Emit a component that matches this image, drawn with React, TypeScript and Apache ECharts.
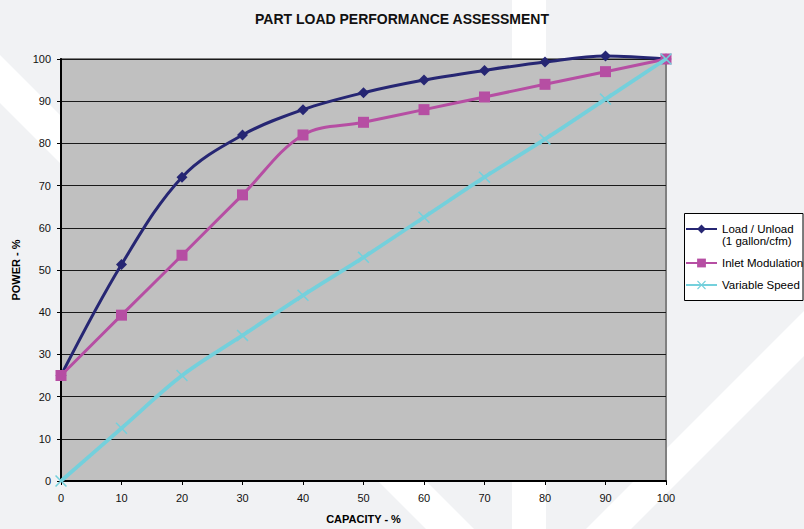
import React, { useEffect, useRef } from "react";
import * as echarts from "echarts";

const capacity = [0, 10, 20, 30, 40, 50, 60, 70, 80, 90, 100];
const loadUnload = [25, 51.3, 72, 82, 88, 92, 95, 97.3, 99.3, 100.7, 100];
const inletModulation = [25, 39.3, 53.5, 67.8, 82, 85, 88, 91, 94, 97, 100];
const variableSpeed = [0, 12.5, 25, 34.5, 44, 53, 62.5, 72, 81, 90.5, 100];

const seriesNames = ["Load / Unload", "Inlet Modulation", "Variable Speed"];
const xTicks = [0, 10, 20, 30, 40, 50, 60, 70, 80, 90, 100];

const X_SYMBOL =
  "path://M0,0.9L0.9,0L5,4.1L9.1,0L10,0.9L5.9,5L10,9.1L9.1,10L5,5.9L0.9,10L0,9.1L4.1,5Z";

export default function App() {
  const ref = useRef<HTMLDivElement>(null);

  useEffect(() => {
    document.body.style.margin = "0";
    const chart = echarts.init(ref.current!, null, { renderer: "svg" });
    const pairs = (ys: number[]) => capacity.map((x, i) => [x, ys[i]]);
    const font = "'Liberation Sans', Arial, Helvetica, sans-serif";

    chart.setOption({
      animation: false,
      backgroundColor: "#f1f2f4",
      textStyle: { fontFamily: font },
      title: {
        text: "PART LOAD PERFORMANCE ASSESSMENT",
        left: "center",
        top: 7,
        textStyle: { fontSize: 14, fontWeight: "bold", color: "#111", fontFamily: font },
      },
      graphic: {
        elements: [
          {
            type: "polygon",
            z: -1,
            silent: true,
            shape: { points: [[0, 55], [474, 529], [426, 529], [0, 103]] },
            style: { fill: "#ffffff" },
          },
          {
            type: "rect",
            z: -1,
            silent: true,
            shape: { x: 512, y: 0, width: 34, height: 529 },
            style: { fill: "#ffffff" },
          },
          {
            type: "polygon",
            z: -1,
            silent: true,
            shape: { points: [[804, 311], [804, 356], [631, 529], [586, 529]] },
            style: { fill: "#ffffff" },
          },
          {
            type: "rect",
            z: 3,
            silent: true,
            shape: { x: 684.5, y: 213.5, width: 118.5, height: 87 },
            style: { fill: "#ffffff", stroke: "#000000", lineWidth: 1 },
          },
        ],
      },
      legend: {
        orient: "vertical",
        left: 685,
        top: 211,
        padding: 0,
        itemGap: 10,
        itemWidth: 31,
        itemHeight: 11,
        itemTextGap: 1,
        data: seriesNames,
        formatter: (name: string) =>
          name === seriesNames[0] ? "\nLoad / Unload\n(1 gallon/cfm)" : name,
        textStyle: { fontSize: 11.5, color: "#000", lineHeight: 12, fontFamily: font },
      },
      grid: {
        left: 61,
        top: 59,
        right: 138,
        bottom: 45,
        show: true,
        backgroundColor: "#c0c0c0",
        borderColor: "#808080",
        borderWidth: 2,
      },
      xAxis: {
        type: "value",
        min: 0,
        max: 100,
        interval: 10,
        name: "CAPACITY - %",
        nameLocation: "middle",
        nameGap: 32,
        nameTextStyle: { fontSize: 11, fontWeight: "bold", color: "#000", fontFamily: font },
        axisLine: { show: true, onZero: false, lineStyle: { color: "#000", width: 2 } },
        axisTick: { show: true, length: 4, lineStyle: { color: "#000" } },
        axisLabel: {
          fontSize: 11,
          color: "#111",
          margin: 11,
          formatter: (v: number) => (xTicks.includes(v) ? String(v) : ""),
        },
        splitLine: { show: false },
      },
      yAxis: {
        type: "value",
        min: 0,
        max: 100,
        interval: 10,
        name: "POWER - %",
        nameLocation: "middle",
        nameGap: 33,
        nameTextStyle: { fontSize: 11, fontWeight: "bold", color: "#000", fontFamily: font },
        axisLine: { show: true, lineStyle: { color: "#000", width: 2 } },
        axisTick: { show: true, length: 4, lineStyle: { color: "#000" } },
        axisLabel: { fontSize: 11, color: "#111", margin: 10 },
        splitLine: { show: true, lineStyle: { color: "#1a1a1a", width: 1 } },
      },
      series: [
        {
          name: seriesNames[0],
          type: "line",
          data: pairs(loadUnload),
          smooth: 0.35,
          clip: false,
          symbol: "diamond",
          symbolSize: 11,
          lineStyle: { color: "#262673", width: 3 },
          itemStyle: { color: "#262673" },
          z: 3,
        },
        {
          name: seriesNames[1],
          type: "line",
          data: pairs(inletModulation),
          smooth: 0.35,
          clip: false,
          symbol: "rect",
          symbolSize: 11,
          lineStyle: { color: "#b64ea3", width: 3 },
          itemStyle: { color: "#b64ea3" },
          z: 4,
        },
        {
          name: seriesNames[2],
          type: "line",
          data: pairs(variableSpeed),
          smooth: 0.35,
          clip: false,
          symbol: X_SYMBOL,
          symbolSize: 12,
          lineStyle: { color: "#74d0dc", width: 3.8 },
          itemStyle: { color: "#74d0dc" },
          z: 5,
        },
      ],
    });

    return () => chart.dispose();
  }, []);

  return (
    <div
      ref={ref}
      style={{ position: "fixed", left: 0, top: 0, width: 804, height: 529 }}
    />
  );
}
